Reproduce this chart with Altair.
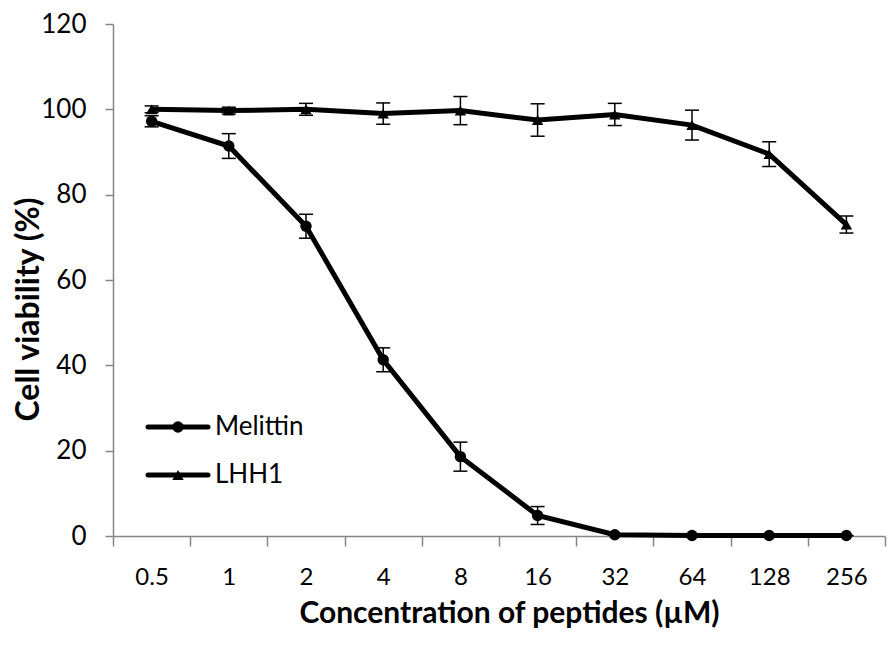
import altair as alt
import pandas as pd

concs = ["0.5", "1", "2", "4", "8", "16", "32", "64", "128", "256"]
series_names = ["Melittin", "LHH1"]
melittin = [97.2, 91.4, 72.6, 41.3, 18.6, 4.8, 0.3, 0.1, 0.1, 0.1]
melittin_err = [1.3, 2.9, 2.8, 2.8, 3.4, 2.1, 0.0, 0.0, 0.0, 0.0]
lhh1 = [100.0, 99.7, 100.0, 99.0, 99.7, 97.5, 98.8, 96.3, 89.5, 73.0]
lhh1_err = [0.8, 0.8, 1.4, 2.5, 3.3, 3.8, 2.6, 3.5, 2.9, 2.0]

rows = []
for name, vals, errs in [("Melittin", melittin, melittin_err), ("LHH1", lhh1, lhh1_err)]:
    for c, v, e in zip(concs, vals, errs):
        rows.append({"conc": c, "series": name, "viability": v, "lo": v - e, "hi": v + e})
df = pd.DataFrame(rows)

FONT = "Lato"
AXIS_GRAY = "#868686"
X_TITLE = "Concentration of peptides (µM)"
Y_TITLE = "Cell viability (%)"

xscale = alt.Scale(type="band", paddingInner=0, paddingOuter=0)
xaxis = alt.Axis(
    title=X_TITLE, labelAngle=0, tickBand="extent",
    tickSize=10, labelPadding=19, labelFontSize=24, titleFontSize=30,
    titleFontWeight="bold", titleBaseline="alphabetic", titleY=86, titleX=396,
    titleAlign="center",
)
yscale = alt.Scale(domain=[0, 120], nice=False)
yaxis = alt.Axis(
    title=Y_TITLE, values=[0, 20, 40, 60, 80, 100, 120],
    tickSize=8, labelPadding=19, labelFontSize=26, titleFontSize=32,
    titleFontWeight="bold", titleAngle=270, titleX=-100, titleY=285,
    titleAlign="center", titleBaseline="top",
)


def X():
    return alt.X("conc:N", sort=concs, scale=xscale, axis=xaxis, title=X_TITLE)


def Y(field):
    return alt.Y(field, scale=yscale, axis=yaxis, title=Y_TITLE)


base = alt.Chart(df)
rules = base.mark_rule(color="black", strokeWidth=1.5).encode(x=X(), y=Y("lo:Q"), y2="hi:Q")
caps_hi = base.mark_tick(color="black", thickness=1.5, size=14, opacity=1).encode(x=X(), y=Y("hi:Q"))
caps_lo = base.mark_tick(color="black", thickness=1.5, size=14, opacity=1).encode(x=X(), y=Y("lo:Q"))
lines = base.mark_line(color="black", strokeWidth=5).encode(x=X(), y=Y("viability:Q"), detail="series:N")
points = base.mark_point(filled=True, color="black", opacity=1, size=130).encode(
    x=X(), y=Y("viability:Q"),
    shape=alt.Shape("series:N", scale=alt.Scale(domain=series_names, range=["circle", "triangle-up"]), legend=None),
)

legend_layers = []
for name, shp, ypos in [("Melittin", "circle", 403), ("LHH1", "triangle-up", 451)]:
    ldf = pd.DataFrame({"label": [name]})
    lc = alt.Chart(ldf)
    legend_layers.append(lc.mark_rule(color="black", strokeWidth=5, strokeCap="round").encode(
        x=alt.value(35), x2=alt.value(95), y=alt.value(ypos)))
    legend_layers.append(lc.mark_point(filled=True, color="black", opacity=1, size=130, shape=shp).encode(
        x=alt.value(65), y=alt.value(ypos)))
    legend_layers.append(lc.mark_text(align="left", baseline="middle", font=FONT, fontSize=26, color="black").encode(
        x=alt.value(102), y=alt.value(ypos), text="label:N"))

chart = alt.layer(lines, rules, caps_hi, caps_lo, points, *legend_layers).properties(
    width=772, height=512,
    autosize=alt.AutoSizeParams(type="none"),
    padding={"left": 105, "top": 16, "right": 2, "bottom": 94},
).configure_view(stroke=None).configure_axis(
    domainColor=AXIS_GRAY, tickColor=AXIS_GRAY, domainWidth=1.5, tickWidth=1.5,
    labelFont=FONT, titleFont=FONT, grid=False, labelColor="black", titleColor="black",
)

chart.save("out.html", embed_options={"renderer": "svg", "actions": False})
